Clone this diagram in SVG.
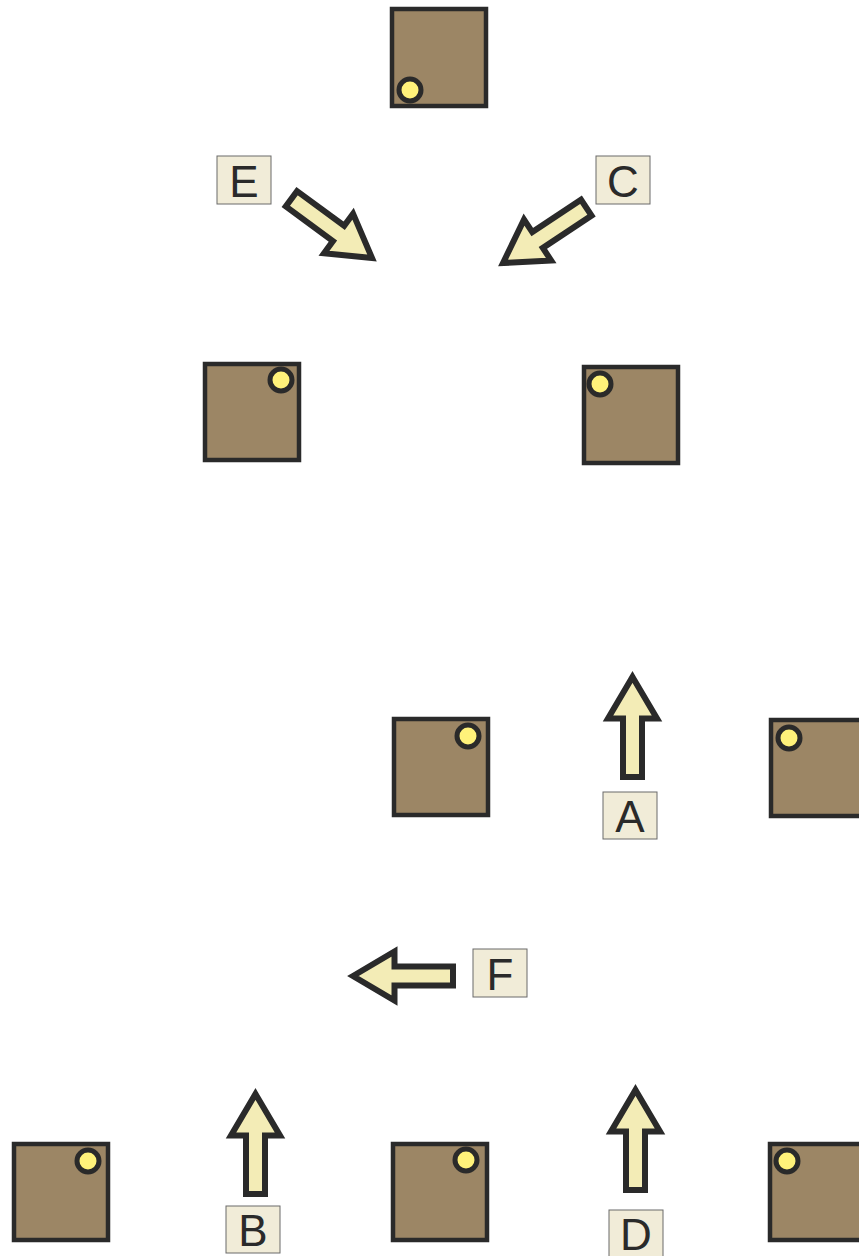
<svg xmlns="http://www.w3.org/2000/svg" width="859" height="1256" viewBox="0 0 859 1256">
<style>
.sq{fill:#9c8665;stroke:#2a2a2a;stroke-width:4.5}
.dot{fill:#fff27a;stroke:#2a2a2a;stroke-width:5}
.lb{fill:#f1ecd8;stroke:#6a6a6a;stroke-width:1}
.lt{font-family:"Liberation Sans",Arial,sans-serif;font-size:44px;fill:#2a2a2a;text-anchor:middle}
.ar{fill:#f3ecb6;stroke:#2a2a2a;stroke-width:6;stroke-miterlimit:10}
</style>
<defs>
<polygon id="arrow" points="0,0 24.5,41.5 9.5,41.5 9.5,100 -9.5,100 -9.5,41.5 -24.5,41.5"/>
</defs>
<g id="node1"><rect class="sq" x="392" y="9" width="94" height="97"/><circle class="dot" cx="410" cy="90" r="11"/></g>
<g id="node2"><rect class="sq" x="205" y="364" width="94" height="96"/><circle class="dot" cx="281" cy="380" r="11"/></g>
<g id="node3"><rect class="sq" x="584" y="367" width="94" height="96"/><circle class="dot" cx="600" cy="384" r="11"/></g>
<g id="node4"><rect class="sq" x="394" y="719" width="94" height="96"/><circle class="dot" cx="468" cy="736" r="11"/></g>
<g id="node5"><rect class="sq" x="771" y="720" width="94" height="96"/><circle class="dot" cx="789" cy="738" r="11"/></g>
<g id="node6"><rect class="sq" x="14" y="1144" width="94" height="96"/><circle class="dot" cx="88" cy="1161" r="11"/></g>
<g id="node7"><rect class="sq" x="393" y="1144" width="94" height="96"/><circle class="dot" cx="466" cy="1160" r="11"/></g>
<g id="node8"><rect class="sq" x="770" y="1144" width="94" height="96"/><circle class="dot" cx="787" cy="1161" r="11"/></g>
<g id="connectors">
<use href="#arrow" class="ar" transform="translate(372,258) rotate(126.3)"/>
<use href="#arrow" class="ar" transform="translate(503,263) rotate(-123.6)"/>
<use href="#arrow" class="ar" transform="translate(632.5,677)"/>
<use href="#arrow" class="ar" transform="translate(353,976) rotate(-90)"/>
<use href="#arrow" class="ar" transform="translate(255.5,1094)"/>
<use href="#arrow" class="ar" transform="translate(635.5,1090)"/>
</g>
<g id="labelE"><rect class="lb" x="217" y="156" width="54" height="48"/><text class="lt" x="244" y="197">E</text></g>
<g id="labelC"><rect class="lb" x="596" y="156" width="54" height="48"/><text class="lt" x="623" y="197">C</text></g>
<g id="labelA"><rect class="lb" x="603" y="792" width="54" height="47"/><text class="lt" x="630" y="832">A</text></g>
<g id="labelF"><rect class="lb" x="473" y="949" width="54" height="48"/><text class="lt" x="500" y="990">F</text></g>
<g id="labelB"><rect class="lb" x="226" y="1206" width="54" height="47"/><text class="lt" x="253" y="1246">B</text></g>
<g id="labelD"><rect class="lb" x="609" y="1210" width="54" height="50"/><text class="lt" x="636" y="1250">D</text></g>
</svg>
